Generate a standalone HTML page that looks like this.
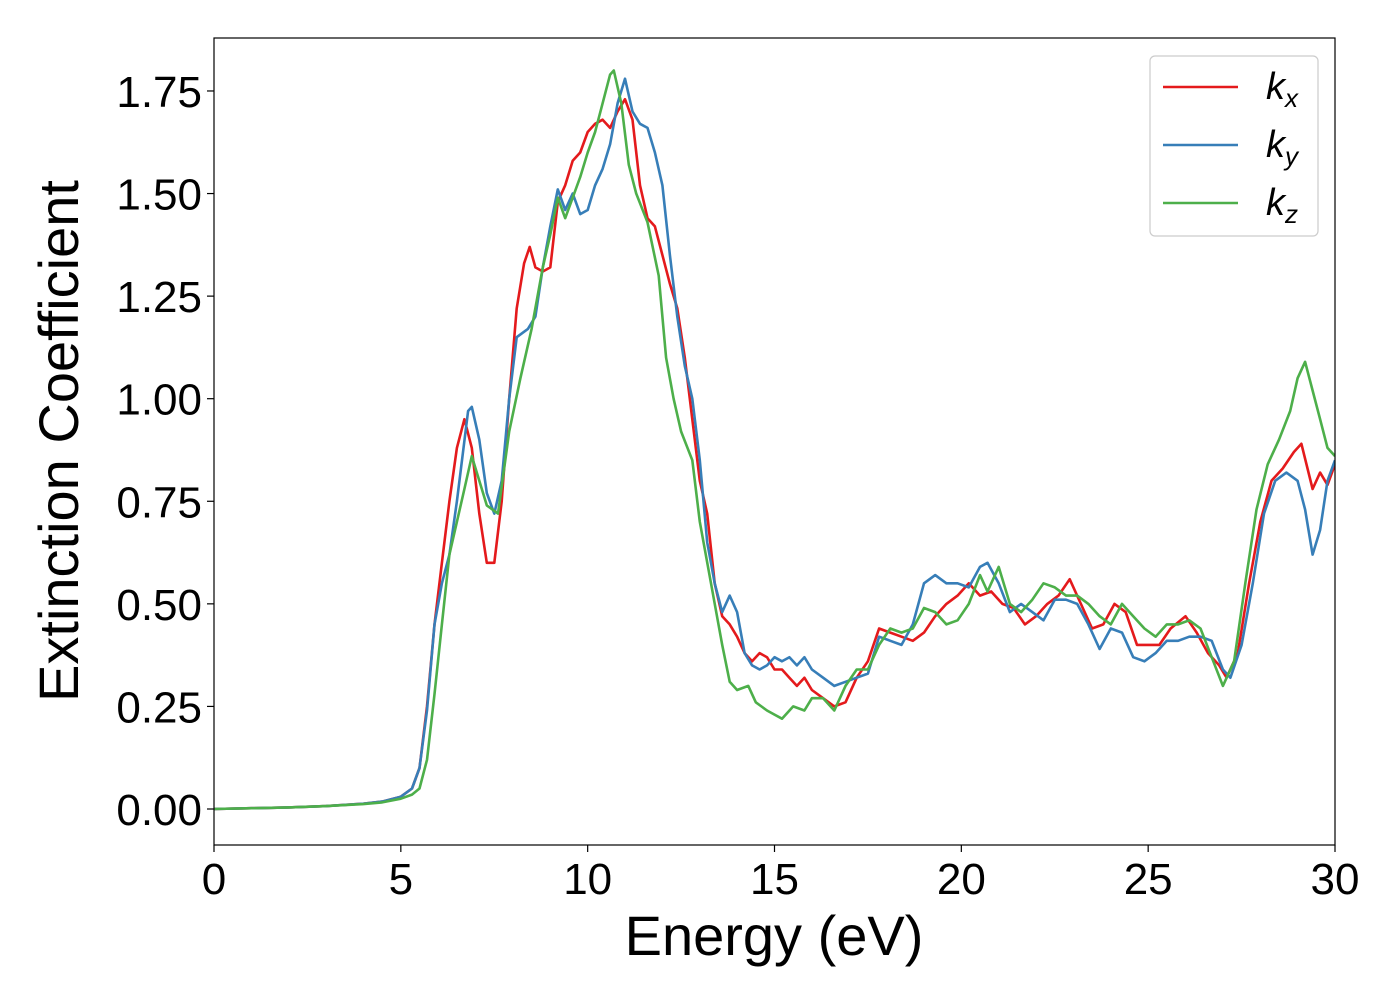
<!DOCTYPE html>
<html><head><meta charset="utf-8"><style>
body{margin:0;background:#fff;}
svg text{font-family:"Liberation Sans","DejaVu Sans",sans-serif;}
</style></head><body>
<svg id="chart" width="1400" height="1000" xmlns="http://www.w3.org/2000/svg">
<rect width="1400" height="1000" fill="#fff"/>
<g id="plot"></g>
</svg>
<script>
const kxE=[0,1,2,3,4,4.5,5,5.3,5.5,5.7,5.9,6.1,6.3,6.5,6.7,6.9,7.1,7.3,7.5,7.7,7.9,8.1,8.3,8.45,8.6,8.8,9.0,9.2,9.4,9.6,9.8,10.0,10.2,10.4,10.6,10.8,11.0,11.2,11.4,11.6,11.8,12.0,12.2,12.4,12.6,12.8,13.0,13.2,13.4,13.6,13.8,14.0,14.2,14.4,14.6,14.8,15.0,15.2,15.4,15.6,15.8,16.0,16.3,16.6,16.9,17.2,17.5,17.8,18.1,18.4,18.7,19.0,19.3,19.6,19.9,20.2,20.5,20.8,21.1,21.4,21.7,22.0,22.3,22.6,22.9,23.2,23.5,23.8,24.1,24.4,24.7,25.0,25.3,25.6,26.0,26.3,26.6,26.9,27.1,27.4,27.7,28.0,28.3,28.6,28.9,29.1,29.4,29.6,29.8,30];
const kxV=[0,0.002,0.004,0.007,0.013,0.018,0.03,0.05,0.1,0.25,0.45,0.6,0.75,0.88,0.95,0.88,0.72,0.6,0.6,0.75,1.0,1.22,1.33,1.37,1.32,1.31,1.32,1.48,1.52,1.58,1.6,1.65,1.67,1.68,1.66,1.7,1.73,1.68,1.52,1.44,1.42,1.35,1.28,1.22,1.1,0.95,0.8,0.72,0.55,0.47,0.45,0.42,0.38,0.36,0.38,0.37,0.34,0.34,0.32,0.3,0.32,0.29,0.27,0.25,0.26,0.32,0.36,0.44,0.43,0.42,0.41,0.43,0.47,0.5,0.52,0.55,0.52,0.53,0.5,0.49,0.45,0.47,0.5,0.52,0.56,0.5,0.44,0.45,0.5,0.48,0.4,0.4,0.4,0.44,0.47,0.43,0.38,0.35,0.32,0.38,0.55,0.7,0.8,0.83,0.87,0.89,0.78,0.82,0.79,0.84];
const kyE=[0,1,2,3,4,4.5,5,5.3,5.5,5.7,5.9,6.1,6.3,6.5,6.8,6.9,7.1,7.3,7.5,7.7,7.9,8.1,8.4,8.6,8.8,9.0,9.2,9.4,9.6,9.8,10.0,10.2,10.4,10.6,10.8,11.0,11.2,11.4,11.6,11.8,12.0,12.2,12.4,12.6,12.8,13.0,13.2,13.4,13.6,13.8,14.0,14.2,14.4,14.6,14.8,15.0,15.2,15.4,15.6,15.8,16.0,16.3,16.6,16.9,17.2,17.5,17.8,18.1,18.4,18.7,19.0,19.3,19.6,19.9,20.2,20.5,20.7,21.0,21.3,21.6,21.9,22.2,22.5,22.8,23.1,23.4,23.7,24.0,24.3,24.6,24.9,25.2,25.5,25.8,26.1,26.4,26.7,27.0,27.2,27.5,27.8,28.1,28.4,28.7,29.0,29.2,29.4,29.6,29.8,30];
const kyV=[0,0.002,0.004,0.007,0.013,0.018,0.03,0.05,0.1,0.24,0.45,0.55,0.62,0.75,0.97,0.98,0.9,0.77,0.72,0.8,1.0,1.15,1.17,1.2,1.32,1.42,1.51,1.46,1.5,1.45,1.46,1.52,1.56,1.62,1.72,1.78,1.7,1.67,1.66,1.6,1.52,1.35,1.2,1.08,1.0,0.85,0.65,0.55,0.48,0.52,0.48,0.38,0.35,0.34,0.35,0.37,0.36,0.37,0.35,0.37,0.34,0.32,0.3,0.31,0.32,0.33,0.42,0.41,0.4,0.45,0.55,0.57,0.55,0.55,0.54,0.59,0.6,0.55,0.48,0.5,0.48,0.46,0.51,0.51,0.5,0.45,0.39,0.44,0.43,0.37,0.36,0.38,0.41,0.41,0.42,0.42,0.41,0.34,0.32,0.4,0.55,0.72,0.8,0.82,0.8,0.73,0.62,0.68,0.8,0.85];
const kzE=[0,1,2,3,4,4.5,5,5.3,5.5,5.7,5.9,6.1,6.3,6.5,6.7,6.9,7.1,7.3,7.6,7.9,8.2,8.5,8.8,9.0,9.2,9.4,9.6,9.8,10.0,10.2,10.4,10.6,10.7,10.9,11.1,11.3,11.6,11.9,12.1,12.3,12.5,12.8,13.0,13.3,13.6,13.8,14.0,14.3,14.5,14.8,15.0,15.2,15.5,15.8,16.0,16.3,16.6,16.9,17.2,17.5,17.8,18.1,18.4,18.7,19.0,19.3,19.6,19.9,20.2,20.5,20.7,21.0,21.3,21.6,21.9,22.2,22.5,22.8,23.1,23.4,23.7,24.0,24.3,24.6,24.9,25.2,25.5,25.8,26.1,26.4,26.7,27.0,27.3,27.6,27.9,28.2,28.5,28.8,29.0,29.2,29.4,29.6,29.8,30];
const kzV=[0,0.002,0.004,0.007,0.012,0.016,0.025,0.035,0.05,0.12,0.28,0.45,0.62,0.7,0.78,0.86,0.8,0.74,0.72,0.92,1.05,1.17,1.32,1.4,1.49,1.44,1.49,1.54,1.6,1.65,1.72,1.79,1.8,1.72,1.57,1.5,1.43,1.3,1.1,1.0,0.92,0.85,0.7,0.55,0.4,0.31,0.29,0.3,0.26,0.24,0.23,0.22,0.25,0.24,0.27,0.27,0.24,0.3,0.34,0.34,0.4,0.44,0.43,0.44,0.49,0.48,0.45,0.46,0.5,0.57,0.53,0.59,0.5,0.48,0.51,0.55,0.54,0.52,0.52,0.5,0.47,0.45,0.5,0.47,0.44,0.42,0.45,0.45,0.46,0.44,0.37,0.3,0.36,0.55,0.73,0.84,0.9,0.97,1.05,1.09,1.02,0.95,0.88,0.86];
const xTicks=[0,5,10,15,20,25,30];
const yTicks=[0,0.25,0.5,0.75,1.0,1.25,1.5,1.75];
const yTickLabels=["0.00","0.25","0.50","0.75","1.00","1.25","1.50","1.75"];

const L=214,R=1335,T=38,B=845;
const X=v=>L+(v-0)/30*(R-L);
const Y=v=>809-v*410.3;
const NS="http://www.w3.org/2000/svg";
const g=document.getElementById('plot');
function mk(tag,attrs,parent){const e=document.createElementNS(NS,tag);for(const k in attrs)e.setAttribute(k,attrs[k]);(parent||g).appendChild(e);return e;}

const clip=mk('clipPath',{id:'pc'});mk('rect',{x:L,y:T,width:R-L,height:B-T},clip);
function series(E,V,color,name){
  const p=mk('polyline',{points:E.map((e,i)=>X(e).toFixed(1)+','+Y(V[i]).toFixed(1)).join(' '),fill:'none',stroke:color,'stroke-width':2.6,'stroke-linejoin':'round','clip-path':'url(#pc)'});
  
  
}
series(kxE,kxV,'#e41a1c','series-kx');
series(kyE,kyV,'#377eb8','series-ky');
series(kzE,kzV,'#4daf4a','series-kz');

const frame=mk('rect',{x:L,y:T,width:R-L,height:B-T,fill:'none',stroke:'#000','stroke-width':1.2});



xTicks.forEach(t=>{
  mk('line',{x1:X(t),x2:X(t),y1:B,y2:B+7,stroke:'#000','stroke-width':1.2});
  const tx=mk('text',{x:X(t),y:894,'font-size':44,'text-anchor':'middle'});tx.textContent=t;
  
  
});
yTicks.forEach((t,i)=>{
  mk('line',{x1:L-7,x2:L,y1:Y(t),y2:Y(t),stroke:'#000','stroke-width':1.2});
  const tx=mk('text',{x:202,y:Y(t)+16,'font-size':44,'text-anchor':'end'});tx.textContent=yTickLabels[i];
  
  
});
const xt=mk('text',{x:774,y:955,'font-size':56,'text-anchor':'middle'});xt.textContent='Energy (eV)';


const yt=mk('text',{x:78,y:441,'font-size':56,'text-anchor':'middle',transform:'rotate(-90 78 441)'});yt.textContent='Extinction Coefficient';



const lg=mk('g',{});


mk('rect',{x:1150,y:56,width:168,height:180,rx:5,fill:'#fff','fill-opacity':0.8,stroke:'#ccc','stroke-width':1.2},lg);
[['#e41a1c','x',87],['#377eb8','y',145],['#4daf4a','z',203]].forEach(([c,s,y])=>{
  const en=mk('g',{},lg);
  
  
  mk('line',{x1:1163,x2:1238,y1:y,y2:y,stroke:c,'stroke-width':2.6},en);
  const t=mk('text',{x:1266,y:y+12,'font-size':38,'font-style':'italic'},en);
  t.textContent='k';
  const sub=mk('tspan',{'font-size':26,dy:8},t);sub.textContent=s;
});
</script>
</body></html>
